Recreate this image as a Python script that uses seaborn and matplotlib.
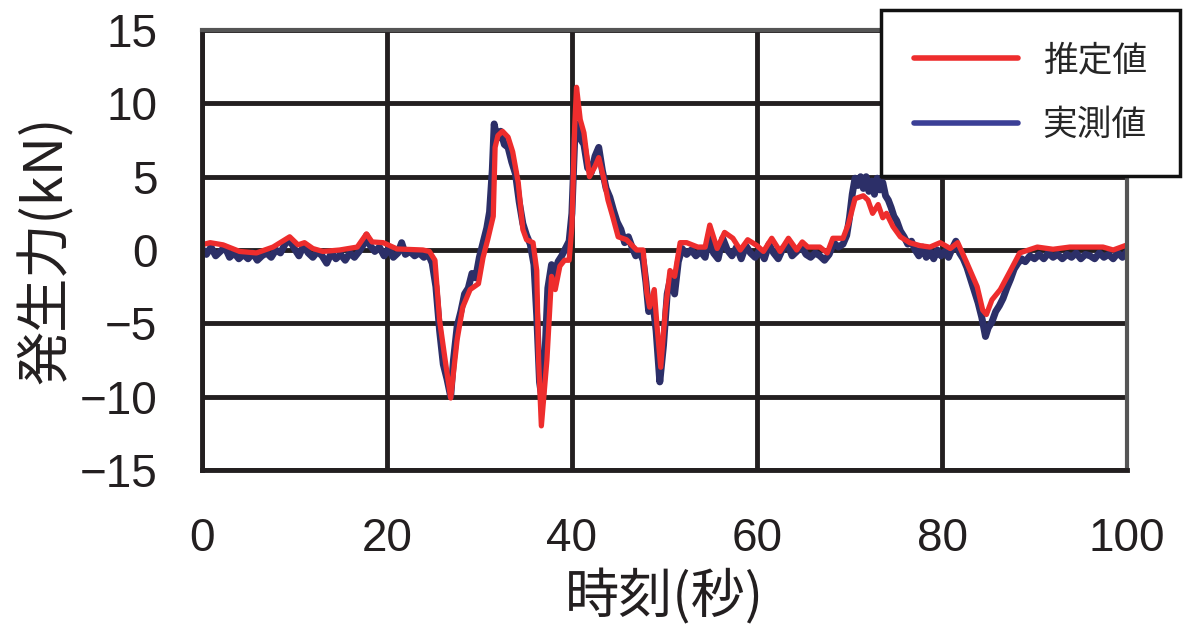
import matplotlib
matplotlib.use("Agg")
import matplotlib.pyplot as plt
import seaborn as sns
import pandas as pd

# ---- data ----
est_t = [0, 0.9, 2.3, 4.1, 5.9, 7.7, 9.5, 10.4, 11.1, 12.0, 13.1, 14.9, 16.8, 17.8, 18.4, 19.6,
         21.1, 23.9, 24.6, 25.2, 25.7, 26.3, 26.9, 27.6, 28.2, 29.0, 29.9, 30.4, 30.9, 31.5, 31.7,
         32.0, 32.5, 33.1, 33.6, 34.2, 34.7, 35.1, 35.8, 36.2, 36.4, 36.7, 37.3, 37.8, 38.2, 38.7,
         39.2, 39.7, 40.0, 40.3, 40.5, 40.9, 41.3, 41.9, 42.5, 42.9, 43.4, 43.9, 44.4, 45.0, 45.9,
         47.0, 47.7, 48.1, 48.4, 48.9, 49.2, 49.6, 50.1, 50.6, 51.1, 51.7, 52.4, 53.6, 54.4, 54.9,
         55.7, 56.5, 57.4, 58.2, 59.0, 60.0, 60.7, 61.6, 62.5, 63.4, 64.3, 64.9, 65.5, 66.8, 67.6,
         68.2, 69.3, 69.9, 70.6, 71.5, 72.0, 72.5, 73.1, 73.6, 74.0, 74.7, 75.5, 76.5, 77.6, 78.7,
         79.8, 80.9, 81.7, 82.7, 83.8, 84.4, 84.8, 85.4, 86.3, 87.4, 88.4, 90.3, 92.0, 93.8, 95.7,
         97.4, 98.5, 99.8, 100]
est_v = [0.35, 0.5, 0.35, -0.1, -0.2, 0.2, 0.9, 0.35, 0.5, 0.1, -0.1, 0.0, 0.2, 1.1, 0.55, 0.5,
         0.07, 0.0, -0.1, -0.7, -4.8, -7.5, -10.1, -6.1, -3.9, -2.7, -2.3, -0.5, 0.7, 2.3, 7.0,
         7.8, 8.1, 7.7, 6.7, 4.6, 1.4, 0.7, 0.5, -1.4, -7.5, -12.0, -7.5, -1.8, -2.7, -1.1,
         -0.7, -0.7, 1.6, 8.4, 11.1, 8.9, 8.0, 5.0, 5.7, 6.3, 5.0, 3.4, 2.3, 0.9, 0.7,
         0.0, 0.0, -2.9, -3.9, -2.7, -5.2, -8.0, -4.1, -1.4, -1.8, 0.5, 0.5, 0.2, 0.2, 1.7,
         0.1, 1.2, 0.8, 0.0, 0.7, 0.3, -0.1, 0.8, -0.1, 0.8, 0.0, 0.55, 0.2, 0.2, -0.2,
         0.8, 0.8, 1.8, 3.5, 3.7, 3.4, 2.5, 3.1, 2.2, 2.5, 1.6, 0.9, 0.5, 0.3, 0.2,
         0.5, 0.1, 0.5, -0.9, -2.5, -4.1, -4.4, -3.4, -2.7, -1.4, -0.2, 0.2, 0.05, 0.2, 0.2,
         0.2, 0.0, 0.3, 0.3]

meas_t = [0, 0.5, 1, 1.5, 2, 2.5, 3, 3.5, 4, 4.5, 5, 5.5, 6, 6.5, 7, 7.5, 8, 8.5, 9, 9.5, 10,
          10.5, 11, 11.5, 12, 12.5, 13, 13.5, 14, 14.5, 15, 15.5, 16, 16.5, 17, 17.5, 17.8, 18.2,
          18.7, 19.2, 19.7, 20.2, 20.7, 21.2, 21.6, 22.0, 22.5, 23.0, 23.5, 24.0, 24.5, 24.9,
          25.3, 25.7, 26.1, 26.5, 26.9, 27.2, 27.6, 28.0, 28.4, 28.8, 29.2, 29.6, 30.0, 30.4,
          30.8, 31.1, 31.4, 31.6, 31.9, 32.3, 32.7, 33.1, 33.5, 33.9, 34.3, 34.7, 35.1, 35.5,
          35.9, 36.2, 36.5, 36.8, 37.1, 37.4, 37.8, 38.1, 38.5, 38.9, 39.3, 39.7, 40.0, 40.3,
          40.5, 40.9, 41.3, 41.7, 42.1, 42.5, 42.9, 43.3, 43.7, 44.1, 44.5, 44.9, 45.3, 45.7,
          46.1, 46.5, 46.9, 47.3, 47.7, 48.0, 48.3, 48.7, 49.1, 49.5, 49.9, 50.3, 50.7, 51.1,
          51.5, 51.9, 52.4, 52.9, 53.4, 53.9, 54.4, 54.9, 55.3, 55.8, 56.3, 56.8, 57.3, 57.8,
          58.3, 58.8, 59.3, 59.8, 60.3, 60.8, 61.3, 61.8, 62.3, 62.8, 63.3, 63.8, 64.3, 64.8,
          65.3, 65.8, 66.3, 66.8, 67.3, 67.8, 68.3, 68.8, 69.3, 69.7, 70.0, 70.3, 70.6, 70.9,
          71.2, 71.5, 71.8, 72.1, 72.4, 72.7, 73.0, 73.3, 73.6, 73.9, 74.2, 74.5, 74.8, 75.1,
          75.5, 75.9, 76.3, 76.7, 77.1, 77.5, 77.9, 78.3, 78.7, 79.1, 79.5, 79.9, 80.3, 80.7,
          81.1, 81.5, 81.9, 82.3, 82.7, 83.1, 83.5, 83.9, 84.3, 84.7, 85.0, 85.4, 85.8, 86.2,
          86.6, 87.0, 87.4, 87.8, 88.2, 88.6, 89.0, 89.5, 90.0, 90.5, 91.0, 91.5, 92.0, 92.5,
          93.0, 93.5, 94.0, 94.5, 95.0, 95.5, 96.0, 96.5, 97.0, 97.5, 98.0, 98.5, 99.0, 99.5, 100]
meas_v = [0.1, -0.3, 0.2, -0.4, -0.1, 0.2, -0.5, -0.2, -0.6, -0.3, -0.6, -0.2, -0.7, -0.4, -0.2,
          -0.5, 0.0, -0.2, 0.4, 0.7, 0.1, -0.4, 0.3, -0.2, -0.5, -0.1, -0.4, -0.9, -0.2, -0.6,
          -0.3, -0.7, -0.2, -0.5, -0.1, 0.4, 1.0, 0.3, -0.1, 0.2, -0.4, 0.1, -0.5, -0.2, 0.5,
          -0.3, -0.1, -0.4, -0.2, -0.5, -0.3, -0.9, -2.5, -5.5, -7.8, -8.8, -10.0, -7.5, -5.2,
          -4.2, -3.0, -2.6, -1.6, -1.9, -0.5, 0.5, 1.5, 2.6, 5.5, 8.6, 7.6, 8.1, 7.2, 7.0, 6.0,
          5.2, 3.3, 1.8, 1.0, 0.4, -1.0, -4.5, -9.0, -10.3, -7.0, -2.6, -1.0, -2.2, -0.8, -0.4,
          0.1, 0.6, 2.5, 7.5, 8.6, 7.6, 7.2, 5.6, 5.3, 6.4, 7.0, 5.4, 4.2, 3.6, 2.7, 1.9, 1.4,
          0.5, 0.9, 0.2, -0.4, -0.1, -0.7, -2.2, -4.2, -3.3, -5.5, -9.0, -6.5, -3.0, -1.8, -3.0,
          -0.8, 0.1, -0.3, 0.0, -0.4, -0.1, -0.5, 1.2, -0.2, -0.6, 0.8, 0.0, -0.4, 0.2, -0.6,
          0.3, -0.2, -0.5, 0.0, -0.6, 0.4, -0.2, -0.6, 0.1, 0.4, -0.4, -0.1, 0.3, -0.3, -0.5,
          -0.2, -0.4, -0.7, -0.3, 0.5, 0.2, 0.4, 1.0, 2.2, 3.8, 4.9, 4.4, 5.0, 4.2, 5.0, 4.0,
          4.7, 3.8, 4.9, 4.1, 4.6, 3.7, 3.4, 2.9, 2.3, 2.0, 1.3, 0.9, 0.4, 0.6, 0.0, -0.4, 0.2,
          -0.5, -0.1, -0.6, 0.0, -0.4, -0.1, -0.5, 0.1, 0.6, -0.2, -0.6, -1.2, -2.0, -2.8, -3.6,
          -4.6, -5.9, -5.3, -4.9, -4.2, -3.8, -3.3, -2.6, -2.0, -1.3, -0.9, -0.6, -0.8, -0.4,
          -0.6, -0.3, -0.6, -0.2, -0.5, -0.3, -0.6, -0.3, -0.5, -0.2, -0.6, -0.3, -0.4, -0.6,
          -0.2, -0.5, -0.3, -0.6, -0.2, -0.5, -0.1]

series_names = ["推定値", "実測値"]
x_ticks = [0, 20, 40, 60, 80, 100]
y_ticks = [-15, -10, -5, 0, 5, 10, 15]
x_label = "時刻(秒)"
y_label = "発生力(kN)"

# ---- style ----
sns.set_style("white")
plt.rcParams['font.family'] = ['Liberation Sans', 'DejaVu Sans']
plt.rcParams['axes.unicode_minus'] = True
cjk = ['Noto Sans CJK JP', 'DejaVu Sans']

RED = "#ee2d2d"
NAVY = "#2c2f68"
GRID = "#231f20"

df_est = pd.DataFrame({"t": est_t, "v": est_v})
df_meas = pd.DataFrame({"t": meas_t, "v": meas_v})

fig = plt.figure(figsize=(11.87, 6.41), dpi=100)
ax = fig.add_axes([0.170, 0.267, 0.7795, 0.686])

ax.set_xlim(0, 100)
ax.set_ylim(-15, 15)
ax.set_xticks(x_ticks)
ax.set_yticks(y_ticks)
ax.grid(True, color=GRID, linewidth=3.5)
ax.set_axisbelow(True)

sns.lineplot(data=df_meas, x="t", y="v", ax=ax, color=NAVY, linewidth=5.0,
             label=series_names[1], sort=False, estimator=None)
sns.lineplot(data=df_est, x="t", y="v", ax=ax, color=RED, linewidth=3.8,
             label=series_names[0], sort=False, estimator=None)

for side in ["left", "bottom"]:
    ax.spines[side].set_color(GRID)
    ax.spines[side].set_linewidth(3.5)
for side in ["top", "right"]:
    ax.spines[side].set_color("#555555")
    ax.spines[side].set_linewidth(3.0)

ax.tick_params(axis="both", length=0, labelsize=33, colors="#231f20")
ax.tick_params(axis="y", pad=32)
ax.tick_params(axis="x", pad=34)
ax.set_yticklabels([f"\u2212{abs(v)}" if v < 0 else str(v) for v in y_ticks])

ax.set_xlabel(x_label, family=cjk, fontsize=39, color="#231f20", labelpad=6)
ax.set_ylabel(y_label, family=cjk, fontsize=39, color="#231f20", labelpad=4)

leg_handles = [plt.Line2D([], [], color=RED, lw=4), plt.Line2D([], [], color="#3b3f96", lw=4)]
leg = fig.legend(leg_handles, series_names, loc="upper right",
                 bbox_to_anchor=(0.994, 0.984), prop={"family": cjk, "size": 25},
                 frameon=True, fancybox=False, edgecolor="#111111", framealpha=1,
                 handlelength=3.0, handletextpad=0.7, labelspacing=0.85, borderpad=0.95,
                 borderaxespad=0)
leg.get_frame().set_linewidth(2.5)
if ax.get_legend():
    ax.get_legend().remove()

fig.savefig("out.png", dpi=100)
